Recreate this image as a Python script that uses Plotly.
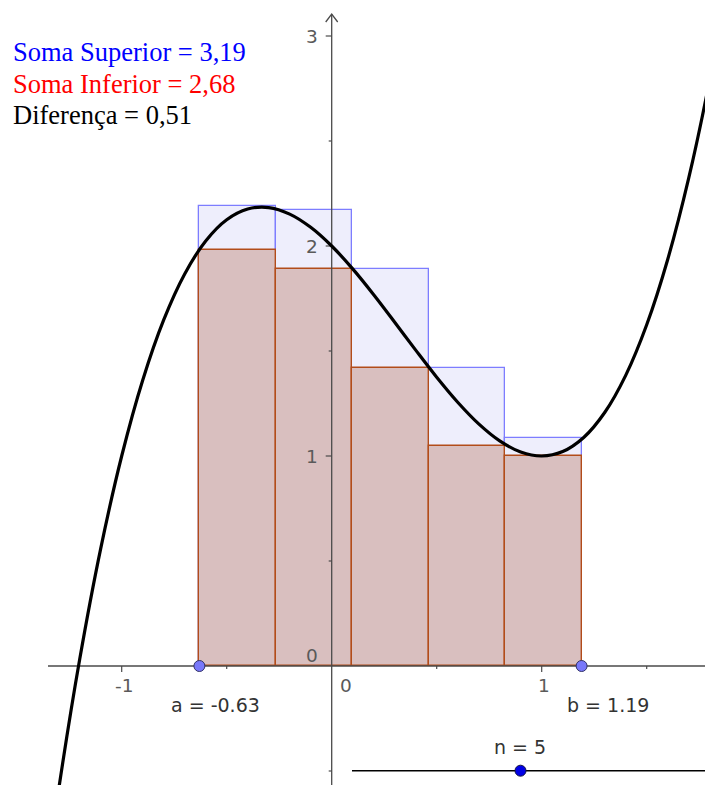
import plotly.graph_objects as go

# ---------------- data ----------------
a = -0.63
b = 1.19
n = 5
upper_heights = [2.19, 2.17, 1.89, 1.42, 1.086]
lower_heights = [1.98, 1.89, 1.42, 1.05, 1.00]

curve_x = [-1.4, -1.3, -1.2, -1.1, -1.0, -0.9, -0.8, -0.7, -0.6, -0.5, -0.4, -0.3,
           -0.2, -0.1, 0.0, 0.1, 0.2, 0.3, 0.4, 0.5, 0.6, 0.7, 0.8, 0.9, 1.0,
           1.1, 1.2, 1.3, 1.4, 1.5, 1.6, 1.7, 1.8, 1.9]
curve_y = [-1.304, -0.587, 0.032, 0.559, 1.0, 1.361, 1.648, 1.867, 2.024, 2.125, 2.176, 2.183,
           2.152, 2.089, 2.0, 1.891, 1.768, 1.637, 1.504, 1.375, 1.256, 1.153, 1.072, 1.019, 1.0,
           1.021, 1.088, 1.207, 1.384, 1.625, 1.936, 2.323, 2.792, 3.349]

x_tick_vals = [-1, 0, 1]
x_tick_labels = ["-1", "0", "1"]
x_major_ticks = [-1, 1]
x_minor_ticks = [-0.5, 0.5, 1.5]
y_tick_vals = [0, 1, 2, 3]
y_tick_labels = ["0", "1", "2", "3"]
y_major_ticks = [1, 2, 3]
y_minor_ticks = [-0.5, 0.5, 1.5, 2.5]

soma_superior = "3,19"
soma_inferior = "2,68"
diferenca = "0,51"

# ---------------- geometry ----------------
OFF = 8.0  # page body margin
W, H = int(713 - OFF), int(785 - OFF)
X0_PX, Y0_PX, UNIT = 331.7 - OFF, 666.0 - OFF, 210.0
XR = [(0 - X0_PX) / UNIT, (W - X0_PX) / UNIT]
YR = [(Y0_PX - H) / UNIT, (Y0_PX - 0) / UNIT]


def px(u):
    return u / UNIT


def dx_(pxx):
    # screen pixel -> data x
    return (pxx - OFF - X0_PX) / UNIT


def dy_(pyy):
    # screen pixel -> data y
    return (Y0_PX - (pyy - OFF)) / UNIT


dx = (b - a) / n
centers = [a + dx * (i + 0.5) for i in range(n)]

fig = go.Figure()

fig.add_trace(go.Bar(x=centers, y=upper_heights, width=dx, base=0,
                     marker=dict(color="rgb(238,238,252)",
                                 line=dict(color="rgb(125,125,255)", width=1.3)),
                     hoverinfo="skip"))
fig.add_trace(go.Bar(x=centers, y=lower_heights, width=dx, base=0,
                     marker=dict(color="rgb(217,191,191)",
                                 line=dict(color="rgb(178,76,26)", width=1.4)),
                     hoverinfo="skip"))

axis_col = "#4a4a4a"
fig.add_trace(go.Scatter(x=[dx_(48), XR[1]], y=[0, 0], mode="lines",
                         line=dict(color=axis_col, width=1.3), hoverinfo="skip"))
top = dy_(14)
fig.add_trace(go.Scatter(x=[0, 0, None, -px(6), 0, px(6)],
                         y=[YR[0], top, None, top - px(8), top, top - px(8)],
                         mode="lines", line=dict(color=axis_col, width=1.3),
                         hoverinfo="skip"))
tx, ty = [], []
for v in x_major_ticks:
    tx += [v, v, None]
    ty += [0, -px(6), None]
for v in x_minor_ticks:
    tx += [v, v, None]
    ty += [0, -px(3), None]
for v in y_major_ticks:
    tx += [0, -px(6), None]
    ty += [v, v, None]
for v in y_minor_ticks:
    tx += [0, -px(3), None]
    ty += [v, v, None]
fig.add_trace(go.Scatter(x=tx, y=ty, mode="lines", line=dict(color=axis_col, width=1.2),
                         hoverinfo="skip"))

fig.add_trace(go.Scatter(x=curve_x, y=curve_y, mode="lines",
                         line=dict(color="black", width=3.2, shape="spline"),
                         hoverinfo="skip"))

fig.add_trace(go.Scatter(x=[a, b], y=[0, 0], mode="markers",
                         marker=dict(size=11, color="rgb(120,120,250)",
                                     line=dict(color="#333366", width=1)),
                         hoverinfo="skip"))

slider_y = dy_(770.7)
fig.add_trace(go.Scatter(x=[dx_(352), XR[1]], y=[slider_y, slider_y], mode="lines",
                         line=dict(color="black", width=1.6), hoverinfo="skip"))
fig.add_trace(go.Scatter(x=[dx_(520.5)], y=[slider_y], mode="markers",
                         marker=dict(size=11, color="rgb(0,0,230)",
                                     line=dict(color="#111144", width=1)),
                         hoverinfo="skip"))

annotations = []
tick_font = dict(family="DejaVu Sans", size=18.5, color="#5a5a5a")
for v, lab in zip(x_tick_vals, x_tick_labels):
    annotations.append(dict(x=v, y=0, text=lab, showarrow=False, xanchor="center",
                            yanchor="middle", yshift=-19, xshift=(14 if v == 0 else 2),
                            font=tick_font))
for v, lab in zip(y_tick_vals, y_tick_labels):
    annotations.append(dict(x=0, y=v, text=lab, showarrow=False, xanchor="right",
                            yanchor="middle", xshift=-12, yshift=(11 if v == 0 else 0),
                            font=tick_font))

lab_font = dict(family="DejaVu Sans", size=19, color="#333333")
annotations.append(dict(x=dx_(215), y=dy_(705), text=f"a = {a:.2f}", showarrow=False,
                        xanchor="center", yanchor="middle", font=lab_font))
annotations.append(dict(x=dx_(608), y=dy_(705), text=f"b = {b:.2f}", showarrow=False,
                        xanchor="center", yanchor="middle", font=lab_font))
annotations.append(dict(x=dx_(520), y=dy_(747), text=f"n = {n}", showarrow=False,
                        xanchor="center", yanchor="middle", font=lab_font))

serif = "Liberation Serif"
annotations.append(dict(x=dx_(11), y=dy_(52), text=f"Soma Superior = {soma_superior}",
                        showarrow=False, xanchor="left", yanchor="middle",
                        font=dict(family=serif, size=26.5, color="#0000ff")))
annotations.append(dict(x=dx_(11), y=dy_(84), text=f"Soma Inferior = {soma_inferior}",
                        showarrow=False, xanchor="left", yanchor="middle",
                        font=dict(family=serif, size=26.5, color="#ff0000")))
annotations.append(dict(x=dx_(11), y=dy_(115), text=f"Diferença = {diferenca}",
                        showarrow=False, xanchor="left", yanchor="middle",
                        font=dict(family=serif, size=26.5, color="#000000")))

fig.update_layout(
    width=W, height=H,
    margin=dict(l=0, r=0, t=0, b=0),
    paper_bgcolor="white", plot_bgcolor="white",
    showlegend=False, barmode="overlay", bargap=0,
    xaxis=dict(range=XR, visible=False, fixedrange=True),
    yaxis=dict(range=YR, visible=False, fixedrange=True),
    annotations=annotations,
)

fig.write_html("out.html")
